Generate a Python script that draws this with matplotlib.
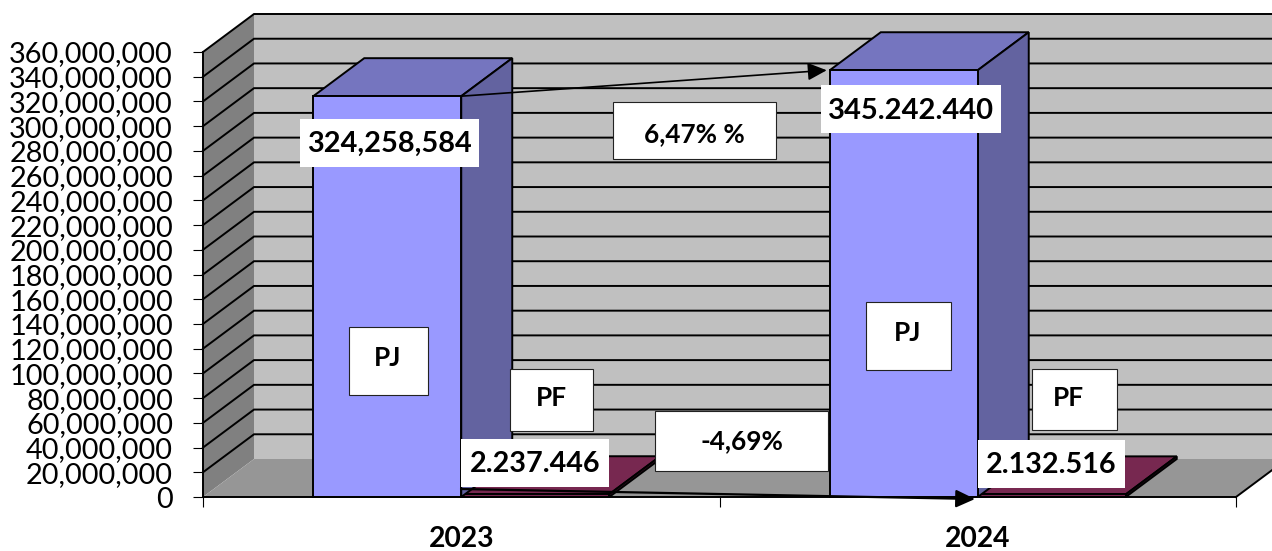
import matplotlib
matplotlib.use("Agg")
import matplotlib.pyplot as plt
from matplotlib.patches import Polygon, Rectangle
from matplotlib.transforms import Affine2D

# ---- data ----
years = ["2023", "2024"]
pj_values = [324258584, 345242440]
pf_values = [2237446, 2132516]
pj_labels = ["324,258,584", "345.242.440"]
pf_labels = ["2.237.446", "2.132.516"]
y_ticks = list(range(0, 360000001, 20000000))
change_labels = ["6,47% %", "-4,69%"]

W, H = 1272, 551
plt.rcParams["font.family"] = ["Lato", "DejaVu Sans"]
fig = plt.figure(figsize=(W / 100, H / 100), dpi=100, facecolor="white")
L, R, B, T = 203, 1236, 497, 52
ax = fig.add_axes([L / W, (H - B) / H, (R - L) / W, (B - T) / H])
ax.set_xlim(0, 2)
ax.set_ylim(0, 360000000)
ax.patch.set_visible(False)
px = Affine2D().scale(1, -1).translate(0, H)

# depth of the pseudo 3D box, expressed in data units
DX = 51 / ((R - L) / 2)
DY = 38 / (B - T) * 360000000
BAR_W = 148 / ((R - L) / 2)
LW = 1.4


def poly(points, color, z, lw=LW, edge="black"):
    ax.add_patch(Polygon(points, closed=True, facecolor=color, edgecolor=edge,
                         lw=lw, zorder=z, clip_on=False, joinstyle="miter"))


top = y_ticks[-1]
# walls and floor
poly([(DX, DY), (2 + DX, DY), (2 + DX, top + DY), (DX, top + DY)], "#C0C0C0", 1, lw=0)
poly([(0, 0), (DX, DY), (DX, top + DY), (0, top)], "#808080", 1, lw=0)
poly([(0, 0), (DX, DY), (2 + DX, DY), (2, 0)], "#969696", 1, lw=0)
for v in y_ticks[1:]:
    ax.plot([0, DX, 2 + DX], [v, v + DY, v + DY], color="black", lw=LW, zorder=2,
            clip_on=False, solid_joinstyle="miter")
ax.plot([2, 2 + DX], [0, DY], color="black", lw=LW, zorder=2, clip_on=False)


def box(x0, x1, v, front, topc, side, z):
    poly([(x0, v), (x0 + DX, v + DY), (x1 + DX, v + DY), (x1, v)], topc, z)
    poly([(x1, 0), (x1 + DX, DY), (x1 + DX, v + DY), (x1, v)], side, z)
    poly([(x0, 0), (x1, 0), (x1, v), (x0, v)], front, z)


for i in range(len(years)):
    c = i + 0.5
    box(c, c + BAR_W, pf_values[i], "#772850", "#772850", "#5A1C3B", 3)
    box(c - BAR_W, c, pj_values[i], "#9999FF", "#7575BF", "#6363A0", 4)

# arrows
head = "-|>,head_length=0.58,head_width=0.27"
ax.annotate("", xy=(1.5 - BAR_W - 3 / 516.5, pj_values[1]), xytext=(0.5, pj_values[0]),
            arrowprops=dict(arrowstyle=head, color="black", lw=1.2, mutation_scale=20,
                            shrinkA=0, shrinkB=0), zorder=5, annotation_clip=False)
ax.annotate("", xy=(975, 499), xytext=(461, 489), xycoords=px, textcoords=px,
            arrowprops=dict(arrowstyle=head, color="black", lw=1.6, mutation_scale=20,
                            shrinkA=0, shrinkB=0), zorder=5, annotation_clip=False)


# label boxes, positioned in figure pixels
def label(text, x0, y0, x1, y1, tx=None, ty=None, border=True, size=19):
    fig.add_artist(Rectangle((x0, y0), x1 - x0, y1 - y0, transform=px, facecolor="white",
                             edgecolor="#222222" if border else "none",
                             lw=0.8 if border else 0, zorder=10))
    fig.text((x0 + x1) / 2 if tx is None else tx, (y0 + y1) / 2 if ty is None else ty,
             text, transform=px, ha="center", va="center", fontweight="bold",
             fontsize=size, color="black", zorder=11)


label(pj_labels[0], 300, 119, 479, 167, ty=144, border=False, size=20.8)
label(pj_labels[1], 821, 85, 1001, 133, ty=111, border=False, size=21)
label(pf_labels[0], 461, 439, 609, 487, ty=464, border=False, size=20.7)
label(pf_labels[1], 978, 440, 1125, 488, ty=465, border=False, size=20.7)
label(change_labels[0], 613, 102, 776, 159, ty=134, size=18.8)
label(change_labels[1], 655, 411, 828, 471, ty=441, size=18.8)
label("PJ", 349, 327, 428, 395, tx=388, ty=358, size=18.8)
label("PJ", 866, 302, 951, 370, tx=908, ty=333, size=18.8)
label("PF", 510, 369, 593, 431, tx=551, ty=398, size=18.8)
label("PF", 1032, 369, 1117, 430, tx=1068, ty=398, size=18.8)

# axes
for s in ("top", "right"):
    ax.spines[s].set_visible(False)
for s in ("left", "bottom"):
    ax.spines[s].set_linewidth(LW)
    ax.spines[s].set_zorder(6)
ax.set_yticks(y_ticks)
ax.set_yticklabels([f"{v:,}" for v in y_ticks], fontsize=20.8, color="black")
ax.tick_params(axis="y", length=7.2, width=0.8, pad=14.4)
ax.set_xticks([0, 1, 2])
ax.set_xticklabels([])
ax.tick_params(axis="x", which="major", length=7.2, width=0.8)
ax.set_xticks([0.5, 1.5], minor=True)
ax.set_xticklabels(years, minor=True, fontsize=20.3, fontweight="bold")
ax.tick_params(axis="x", which="minor", length=0, pad=21)

fig.savefig("out.png", dpi=100, facecolor="white")
